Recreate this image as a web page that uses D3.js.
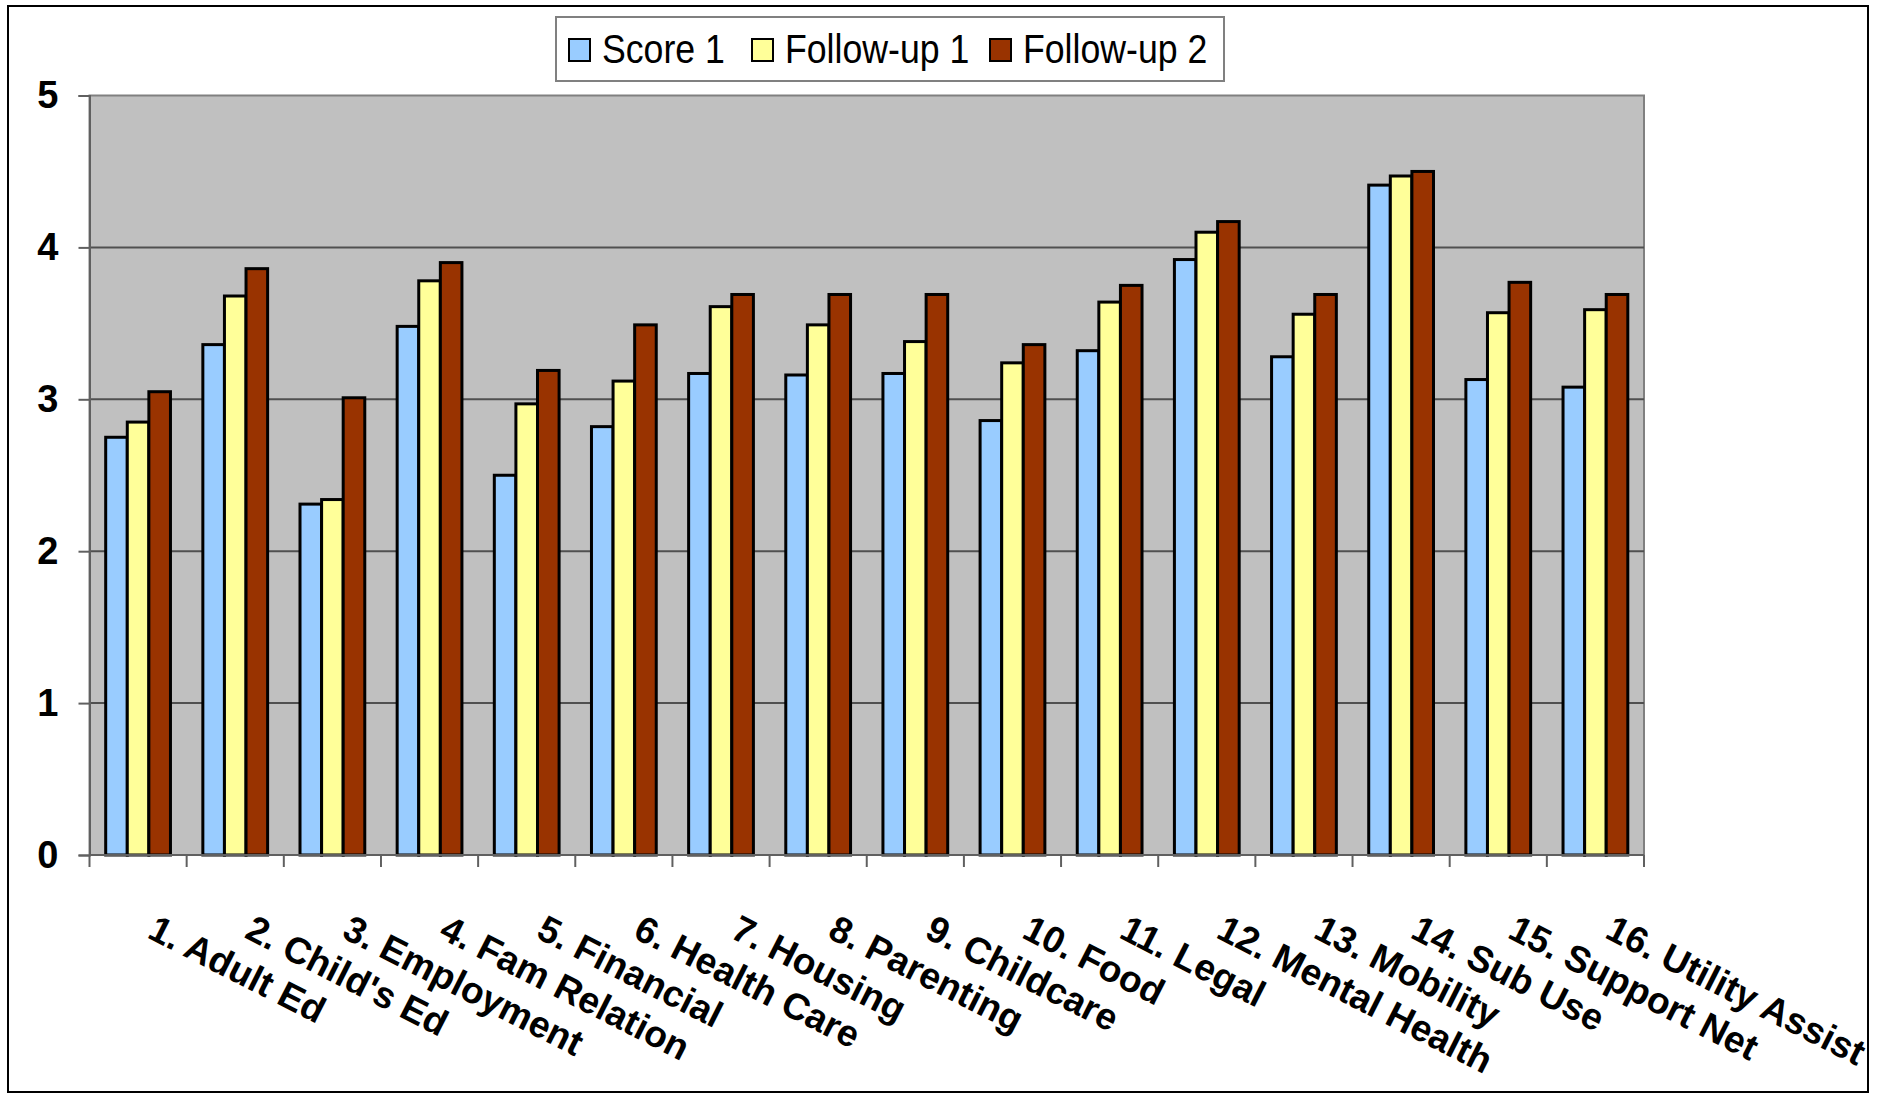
<!DOCTYPE html>
<html>
<head>
<meta charset="utf-8">
<script src="https://cdn.jsdelivr.net/npm/d3@7"></script>
<style>
  html, body { margin: 0; padding: 0; background: #fff; }
  svg { display: block; }
  text { font-family: "Liberation Sans", Arial, sans-serif; }
</style>
</head>
<body>
<svg id="chart" width="1878" height="1095"></svg>
<script>
// Domain scores per area at intake and two follow-ups
const categories = [
  "1. Adult Ed", "2. Child's Ed", "3. Employment", "4. Fam Relation",
  "5. Financial", "6. Health Care", "7. Housing", "8. Parenting",
  "9. Childcare", "10. Food", "11. Legal", "12. Mental Health",
  "13. Mobility", "14. Sub Use", "15. Support Net", "16. Utility Assist"
];
const seriesNames = ["Score 1", "Follow-up 1", "Follow-up 2"];
const score1    = [2.75, 3.36, 2.31, 3.48, 2.50, 2.82, 3.17, 3.16, 3.17, 2.86, 3.32, 3.92, 3.28, 4.41, 3.13, 3.08];
const followUp1 = [2.85, 3.68, 2.34, 3.78, 2.97, 3.12, 3.61, 3.49, 3.38, 3.24, 3.64, 4.10, 3.56, 4.47, 3.57, 3.59];
const followUp2 = [3.05, 3.86, 3.01, 3.90, 3.19, 3.49, 3.69, 3.69, 3.69, 3.36, 3.75, 4.17, 3.69, 4.50, 3.77, 3.69];
const yTicks = [0, 1, 2, 3, 4, 5];
const colors = ["#99CCFF", "#FFFF99", "#993300"];

const seriesValues = [score1, followUp1, followUp2];
const rows = categories.map((c, i) => ({
  category: c,
  values: seriesNames.map((s, k) => ({ series: s, value: seriesValues[k][i], k }))
}));

const svg = d3.select("#chart");

// Chart frame
svg.append("rect")
  .attr("x", 8).attr("y", 6).attr("width", 1860).attr("height", 1086)
  .attr("fill", "#fff").attr("stroke", "#000").attr("stroke-width", 2);

const plot = { left: 89.5, right: 1644, top: 95.5, bottom: 855 };

const x = d3.scaleBand().domain(categories).range([plot.left, plot.right]).padding(0);
const xInner = d3.scaleBand().domain(seriesNames).range([0, x.bandwidth()])
  .paddingInner(0).paddingOuter(0.75);
const y = d3.scaleLinear().domain([0, 5]).range([plot.bottom, plot.top]);

// Plot background
svg.append("rect")
  .attr("x", plot.left).attr("y", plot.top)
  .attr("width", plot.right - plot.left).attr("height", plot.bottom - plot.top)
  .attr("fill", "#C0C0C0").attr("stroke", "#808080").attr("stroke-width", 2);

// Horizontal gridlines
svg.append("g")
  .selectAll("line")
  .data(yTicks.filter(t => t > 0 && t < 5))
  .join("line")
  .attr("x1", plot.left).attr("x2", plot.right)
  .attr("y1", d => y(d)).attr("y2", d => y(d))
  .attr("stroke", "#505050").attr("stroke-width", 2);

// Bars
const groups = svg.append("g")
  .selectAll("g")
  .data(rows)
  .join("g")
  .attr("transform", d => `translate(${x(d.category)},0)`);

groups.selectAll("rect")
  .data(d => d.values)
  .join("rect")
  .attr("x", d => xInner(d.series))
  .attr("width", xInner.bandwidth())
  .attr("y", d => y(d.value))
  .attr("height", d => y(0) - y(d.value))
  .attr("fill", d => colors[d.k])
  .attr("stroke", "#000")
  .attr("stroke-width", 3);

// Y axis
const yAxis = d3.axisLeft(y).tickValues(yTicks).tickSize(11).tickPadding(20)
  .tickFormat(d3.format("d"));
const gy = svg.append("g").attr("transform", `translate(${plot.left},0)`).call(yAxis);
gy.select(".domain").attr("stroke", "#606060").attr("stroke-width", 2);
gy.selectAll(".tick line").attr("stroke", "#606060").attr("stroke-width", 2);
gy.selectAll(".tick text")
  .attr("fill", "#000")
  .style("font-size", "38px").style("font-weight", "bold")
  .style("font-family", "'Liberation Sans', Arial, sans-serif");

// X axis with ticks on category boundaries
const gx = svg.append("g").attr("transform", `translate(0,${plot.bottom})`);
gx.append("line")
  .attr("x1", plot.left).attr("x2", plot.right).attr("y1", 0).attr("y2", 0)
  .attr("stroke", "#606060").attr("stroke-width", 2);
const boundaries = categories.map(c => x(c)).concat([x(categories[categories.length - 1]) + x.bandwidth()]);
gx.selectAll("line.tk")
  .data(boundaries)
  .join("line")
  .attr("class", "tk")
  .attr("x1", d => d).attr("x2", d => d).attr("y1", 0).attr("y2", 12)
  .attr("stroke", "#606060").attr("stroke-width", 2);

// Rotated category labels
const angle = 27;
gx.selectAll("text")
  .data(categories)
  .join("text")
  .attr("transform", d => `translate(${x(d) + x.bandwidth() / 2 + 8},${82}) rotate(${angle})`)
  .attr("text-anchor", "start")
  .style("font-size", "37px").style("font-weight", "bold")
  .attr("fill", "#000")
  .text(d => d);

// Legend
const legend = svg.append("g");
legend.append("rect")
  .attr("x", 556).attr("y", 17).attr("width", 668).attr("height", 64)
  .attr("fill", "#fff").attr("stroke", "#808080").attr("stroke-width", 2);
const legendX = [569, 752, 990];
const items = legend.selectAll("g.item")
  .data(seriesNames)
  .join("g")
  .attr("class", "item")
  .attr("transform", (d, i) => `translate(${legendX[i]},0)`);
items.append("rect")
  .attr("x", 0).attr("y", 39).attr("width", 21).attr("height", 22)
  .attr("fill", (d, i) => colors[i]).attr("stroke", "#000").attr("stroke-width", 2);
items.append("text")
  .attr("transform", "translate(33,63) scale(0.87,1)")
  .style("font-size", "41px")
  .attr("fill", "#000")
  .text(d => d);
</script>
</body>
</html>
